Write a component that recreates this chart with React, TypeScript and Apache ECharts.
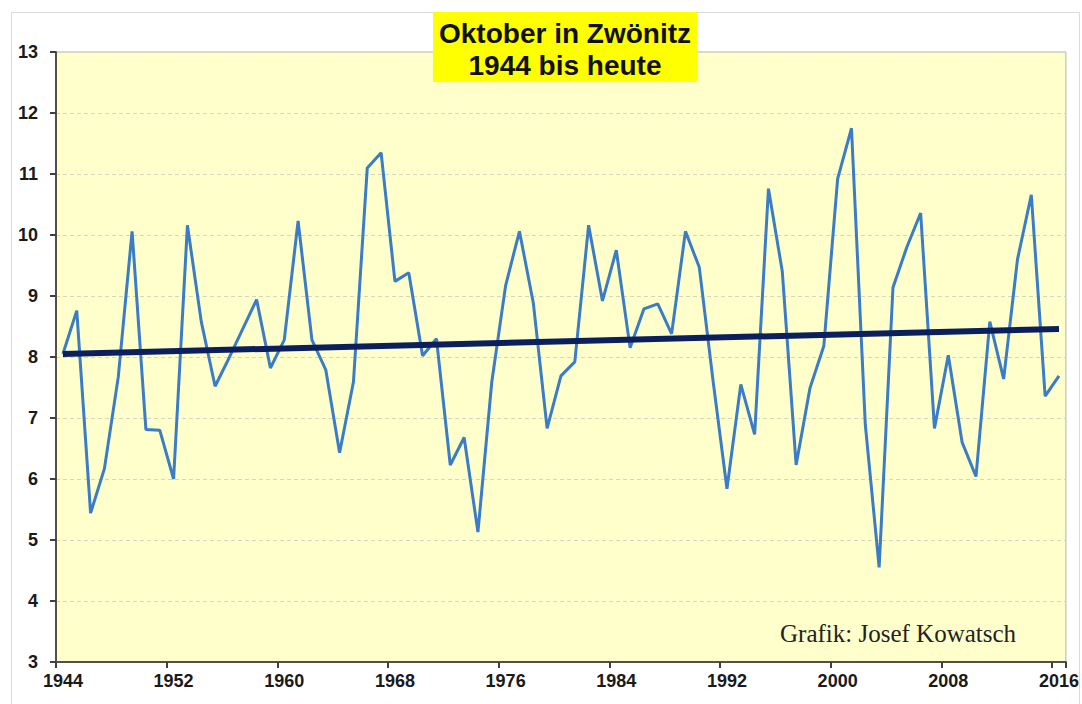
import React, { useEffect, useRef } from "react";
import * as echarts from "echarts";

const years: string[] = [];
for (let y = 1944; y <= 2016; y++) years.push(String(y));

const octoberTemps: number[] = [
  8.05, 8.76, 5.44, 6.17, 7.67, 10.06, 6.81, 6.8, 6.0, 10.16,
  8.58, 7.52, 7.98, 8.46, 8.94, 7.82, 8.28, 10.23, 8.28, 7.79,
  6.43, 7.59, 11.1, 11.35, 9.24, 9.38, 8.02, 8.3, 6.23, 6.68,
  5.13, 7.59, 9.17, 10.06, 8.89, 6.83, 7.69, 7.92, 10.16, 8.92,
  9.75, 8.15, 8.79, 8.87, 8.38, 10.06, 9.47, 7.6, 5.84, 7.55,
  6.73, 10.76, 9.4, 6.23, 7.49, 8.18, 10.92, 11.75, 6.89, 4.55,
  9.14, 9.8, 10.36, 6.83, 8.03, 6.6, 6.04, 8.58, 7.64, 9.6,
  10.66, 7.36, 7.69,
];

const trendStart = 8.05;
const trendEnd = 8.46;

const titleLines = ["Oktober in Zwönitz", "1944 bis heute"];
const creditText = "Grafik: Josef Kowatsch";

export default function App() {
  const ref = useRef<HTMLDivElement>(null);

  useEffect(() => {
    document.body.style.margin = "0";
    const chart = echarts.init(ref.current!, null, { renderer: "svg" });
    const trendData: (number | null)[] = years.map(() => null);
    trendData[0] = trendStart;
    trendData[years.length - 1] = trendEnd;

    chart.setOption({
      animation: false,
      backgroundColor: "#ffffff",
      grid: {
        left: 56,
        top: 52,
        right: 15,
        bottom: 42,
        show: true,
        backgroundColor: "#FFFFCC",
        borderColor: "#b4b4a8",
        borderWidth: 1,
      },
      xAxis: {
        type: "category",
        data: years,
        boundaryGap: true,
        axisLine: { show: true, lineStyle: { color: "#505050", width: 2 } },
        axisTick: {
          show: true,
          interval: 7,
          alignWithLabel: false,
          length: 6,
          lineStyle: { color: "#404040", width: 2 },
        },
        axisLabel: {
          interval: 7,
          margin: 10,
          fontFamily: "Liberation Sans, Arial, sans-serif",
          fontWeight: "bold",
          fontSize: 18,
          color: "#1a1a1a",
        },
        splitLine: { show: false },
      },
      yAxis: {
        type: "value",
        min: 3,
        max: 13,
        interval: 1,
        axisLine: { show: true, lineStyle: { color: "#505050", width: 2 } },
        axisTick: { show: true, length: 6, lineStyle: { color: "#404040", width: 2 } },
        axisLabel: {
          margin: 18,
          fontFamily: "Liberation Sans, Arial, sans-serif",
          fontWeight: "bold",
          fontSize: 18,
          color: "#1a1a1a",
        },
        splitLine: {
          show: true,
          lineStyle: { color: "#d6d6c0", type: [4, 3], width: 1 },
        },
      },
      series: [
        {
          name: "Oktober",
          type: "line",
          data: octoberTemps,
          symbol: "none",
          lineStyle: { color: "#3a7cc6", width: 3 },
          z: 2,
        },
        {
          name: "Trend",
          type: "line",
          data: trendData,
          connectNulls: true,
          symbol: "none",
          lineStyle: { color: "#0b1f5c", width: 6 },
          z: 3,
        },
      ],
      graphic: [
        {
          type: "rect",
          shape: { x: 11.5, y: 12.5, width: 1068, height: 700 },
          style: { fill: "none", stroke: "#dadada", lineWidth: 1 },
          silent: true,
          z: -1,
        },
        {
          type: "rect",
          shape: { x: 433, y: 12, width: 264, height: 70 },
          style: { fill: "#FFFF00" },
          z: 10,
        },
        {
          type: "text",
          x: 565,
          y: 49,
          style: {
            text: titleLines.join("\n"),
            font: 'bold 28px "Liberation Sans", Arial, sans-serif',
            fill: "#111111",
            textAlign: "center",
            textVerticalAlign: "middle",
            lineHeight: 32,
          },
          z: 11,
        },
        {
          type: "text",
          x: 780,
          y: 633,
          style: {
            text: creditText,
            font: '25px "Liberation Serif", "Times New Roman", serif',
            fill: "#222222",
            textAlign: "left",
            textVerticalAlign: "middle",
          },
          z: 11,
        },
      ],
    });
    return () => chart.dispose();
  }, []);

  return <div ref={ref} style={{ width: 1082, height: 704 }} />;
}
